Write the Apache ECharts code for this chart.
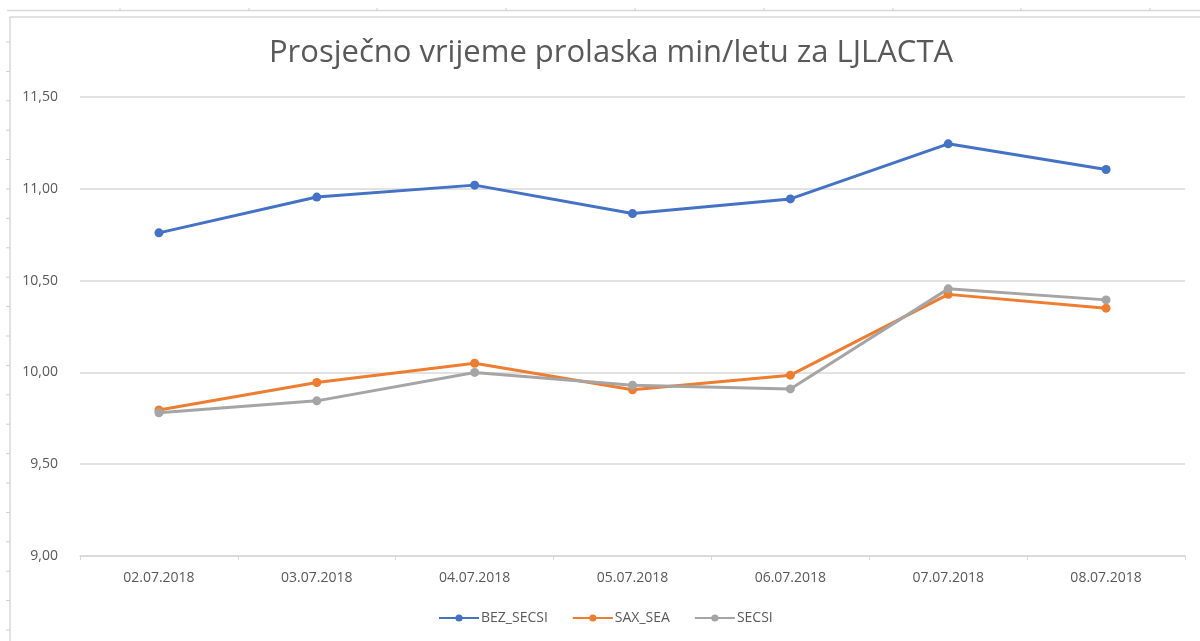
<!DOCTYPE html>
<html>
<head>
<meta charset="utf-8">
<script src="https://cdn.jsdelivr.net/npm/echarts@6/dist/echarts.min.js"></script>
<style>html,body{margin:0;padding:0;background:#fff;}#c{width:1200px;height:641px;}</style>
</head>
<body>
<div id="c"></div>
<script>
const categories = ['02.07.2018','03.07.2018','04.07.2018','05.07.2018','06.07.2018','07.07.2018','08.07.2018'];
const bezSecsi = [10.76, 10.955, 11.02, 10.865, 10.945, 11.245, 11.105];
const saxSea   = [9.795, 9.945, 10.05, 9.905, 9.985, 10.425, 10.35];
const secsi    = [9.78, 9.845, 10.0, 9.93, 9.91, 10.455, 10.395];
const yTicks = [9.0, 9.5, 10.0, 10.5, 11.0, 11.5];

const chart = echarts.init(document.getElementById('c'), null, {renderer:'canvas'});
const fontF = '"Open Sans", "Noto Sans", sans-serif';
const graphics = [];
// frame artifacts
graphics.push({type:'line', shape:{x1:7,y1:10.5,x2:1200,y2:10.5}, style:{stroke:'#d9d9d9',lineWidth:1.5}});
graphics.push({type:'line', shape:{x1:10,y1:17,x2:1200,y2:17}, style:{stroke:'#d9d9d9',lineWidth:1.5}});
graphics.push({type:'line', shape:{x1:10,y1:17,x2:10,y2:641}, style:{stroke:'#d9d9d9',lineWidth:1.5}});
[120,249,377,506,635,764,893,1021,1150].forEach(x=>graphics.push({type:'line', shape:{x1:x,y1:8,x2:x,y2:11}, style:{stroke:'#cfcfcf',lineWidth:1}}));
for (let y=42; y<641; y+=29.4) graphics.push({type:'line', shape:{x1:6,y1:y,x2:10,y2:y}, style:{stroke:'#cfcfcf',lineWidth:1}});

const mk = (name, data, color) => ({
  name, type:'line', data, symbol:'circle', symbolSize:9,
  lineStyle:{color, width:3}, itemStyle:{color}, emphasis:{disabled:true}
});

chart.setOption({
  animation:false,
  title:{text:'Prosječno vrijeme prolaska min/letu za LJLACTA', left:606, top:33, textAlign:'center',
    textStyle:{fontFamily:fontF, fontSize:31, fontWeight:'normal', color:'#595959'}},
  grid:{left:80, right:15, top:97, bottom:85},
  legend:{bottom:11, left:433, itemWidth:40, itemHeight:9, itemGap:24,
    textStyle:{fontFamily:fontF, fontSize:14, color:'#595959', padding:[0,0,0,-3]},
    data:['BEZ_SECSI','SAX_SEA','SECSI']},
  xAxis:{type:'category', data:categories, boundaryGap:true,
    axisLine:{lineStyle:{color:'#d9d9d9', width:1.5}}, axisTick:{show:true, alignWithLabel:false, length:4, lineStyle:{color:'#d9d9d9'}},
    axisLabel:{fontFamily:fontF, fontSize:14, color:'#595959', margin:15}},
  yAxis:{type:'value', min:9, max:11.5, interval:0.5,
    axisLine:{show:false}, axisTick:{show:false},
    splitLine:{lineStyle:{color:'#d9d9d9', width:1.5}},
    axisLabel:{fontFamily:fontF, fontSize:14, color:'#595959', margin:22,
      formatter:v=>v.toFixed(2).replace('.',',')}},
  series:[mk('BEZ_SECSI', bezSecsi, '#4472C4'), mk('SAX_SEA', saxSea, '#ED7D31'), mk('SECSI', secsi, '#A5A5A5')],
  graphic:graphics
});
</script>
</body>
</html>
